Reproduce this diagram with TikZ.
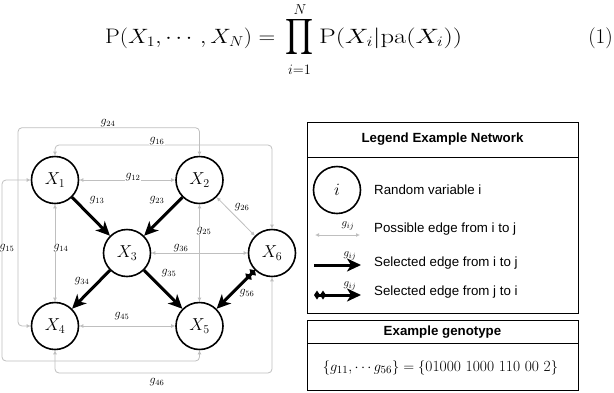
\documentclass[tikz,border=0pt]{standalone}
\usepackage{fontspec}
\usepackage{amsmath}
\newfontfamily\lsans{Liberation Sans}
\usetikzlibrary{arrows.meta,calc}
\begin{document}
\begin{tikzpicture}[x=1pt,y=-1pt,
  rv/.style={circle,draw=black,line width=1.6pt,minimum size=47pt,inner sep=0pt,font=\fontsize{16.5}{18}\selectfont},
  possible/.style={draw=gray!50,line width=0.8pt,{Latex[length=4pt,width=4pt]}-{Latex[length=4pt,width=4pt]},rounded corners=4pt},
  selected/.style={draw=black,line width=3pt,-{Stealth[length=14pt,width=13pt,inset=4pt]}},
  reversed/.style={draw=black,line width=3pt,{Diamond[length=6pt,width=9pt]Diamond[length=6pt,width=9pt]}-{Stealth[length=14pt,width=13pt,inset=4pt]}},
  glabel/.style={font=\fontsize{12}{12}\selectfont,inner sep=0.5pt,fill=white},
  smalllabel/.style={font=\fontsize{11}{11}\selectfont,inner sep=0.5pt},
  legtext/.style={font=\lsans\fontsize{13.3}{15}\selectfont,anchor=west,inner sep=0pt},
  hdr/.style={font=\lsans\bfseries\fontsize{13.3}{15}\selectfont,inner sep=0pt},
  boxline/.style={draw=black,line width=1pt},
  eqpart/.style={inner sep=0pt,font=\fontsize{21}{24}\selectfont},
  limpart/.style={inner sep=0pt,font=\fontsize{14.5}{16}\selectfont}
]
\useasboundingbox (0,0) rectangle (614,392);

% equation
\node[eqpart,anchor=base west] (eqA) at (105,43)
  {\resizebox{170pt}{\height}{$\mathrm{P}(X_1,\cdots,X_N)=$}};
\node[inner sep=0pt] (prod) at (299,37) {\resizebox*{28pt}{40pt}{$\displaystyle\prod$}};
\node[limpart,anchor=base] (limN) at (300,14.5) {$N$};
\node[limpart,anchor=base] (limi) at (299.5,74.5) {$i{=}1$};
\node[eqpart,anchor=base west] (eqB) at (319,43)
  {\resizebox{143pt}{\height}{$\mathrm{P}(X_i|\mathrm{pa}(X_i))$}};
\node[eqpart,anchor=base east] (eqnum) at (613,43) {(1)};

% nodes
\node[rv] (X1) at (55,180) {$X_1$};
\node[rv] (X2) at (199.5,180) {$X_2$};
\node[rv] (X3) at (127,253) {$X_3$};
\node[rv] (X6) at (272,253) {$X_6$};
\node[rv] (X4) at (55,326) {$X_4$};
\node[rv] (X5) at (199.5,326) {$X_5$};

% corner coordinates
\coordinate (c24) at (18,127.7);
\coordinate (c16) at (272,145);
\coordinate (c15) at (2,361);
\coordinate (c46) at (272,373);

% possible edges
\draw[possible] (X2.north) |- (c24) |- (X4.west);
\draw[possible] (X1.north) |- (c16) -- (X6.north);
\draw[possible] (X1.west) -| (c15) -| (X5.south);
\draw[possible] (X4.south) |- (c46) -- (X6.south);
\draw[possible] (X1) -- (X2);
\draw[possible] (X1) -- (X4);
\draw[possible] (X2) -- (X5);
\draw[possible] (X2) -- (X6);
\draw[possible] (X3) -- (X6);
\draw[possible] (X4) -- (X5);

% selected edges
\draw[selected] (X1) -- (X3);
\draw[selected] (X2) -- (X3);
\draw[selected] (X3) -- (X4);
\draw[selected] (X3) -- (X5);
\draw[reversed] (X6) -- (X5);

% labels
\node[glabel] (l24) at (108,123) {$g_{24}$};
\node[glabel] (l16) at (157,141) {$g_{16}$};
\node[glabel] (l12) at (133,177) {$g_{12}$};
\node[glabel] (l13) at (97,200) {$g_{13}$};
\node[glabel] (l23) at (157,200) {$g_{23}$};
\node[glabel] (l26) at (242,207) {$g_{26}$};
\node[glabel] (l25) at (204,231) {$g_{25}$};
\node[glabel] (l15) at (7,248) {$g_{15}$};
\node[glabel] (l14) at (61,248) {$g_{14}$};
\node[glabel] (l36) at (181,248) {$g_{36}$};
\node[glabel] (l34) at (82,281) {$g_{34}$};
\node[glabel] (l35) at (169,273) {$g_{35}$};
\node[glabel] (l56) at (247,293) {$g_{56}$};
\node[glabel] (l45) at (122,316) {$g_{45}$};
\node[glabel] (l46) at (157,382) {$g_{46}$};

% legend box
\draw[boxline] (307,122) rectangle (578,313);
\draw[boxline] (307,157) -- (578,157);
\node[hdr] (leghead) at (442.5,139.5) {Legend Example Network};
\node[rv] (legi) at (337,190) {$i$};
\node[legtext] (t1) at (374,190) {Random variable i};
\coordinate (p1) at (315,235);
\coordinate (p2) at (360,235);
\draw[possible] (p1) -- (p2);
\node[smalllabel] (lp) at (348,226) {$g_{ij}$};
\node[legtext] (t2) at (374,229) {Possible edge from i to j};
\coordinate (s1) at (314,265);
\coordinate (s2) at (361,265);
\draw[selected] (s1) -- (s2);
\node[smalllabel] (ls) at (350,256) {$g_{ij}$};
\node[legtext] (t3) at (374,263) {Selected edge from i to j};
\coordinate (r1) at (314,295);
\coordinate (r2) at (361,295);
\draw[reversed] (r1) -- (r2);
\node[smalllabel] (lr) at (350,286) {$g_{ij}$};
\node[legtext] (t4) at (374,292) {Selected edge from j to i};

% genotype box
\draw[boxline] (307,320) rectangle (578,390.5);
\draw[boxline] (307,343) -- (578,343);
\node[hdr] (genhead) at (442.5,332) {Example genotype};
\node[inner sep=0pt,font=\fontsize{15.5}{18}\selectfont] (geno) at (440.5,368)
  {$\{g_{11},\cdots g_{56}\}=\{\mathrm{01000\ 1000\ 110\ 00\ 2}\}$};
\end{tikzpicture}
\end{document}
